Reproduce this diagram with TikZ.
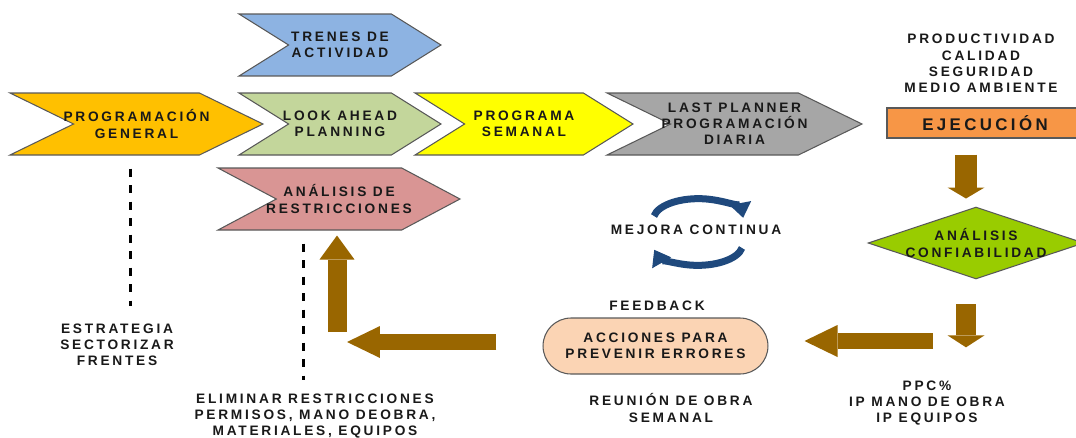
\documentclass[tikz,border=0pt]{standalone}
\usepackage{fontspec}
\setmainfont{Liberation Sans}
\newfontfamily\lblfont[LetterSpace=20]{Liberation Sans}
\usetikzlibrary{shapes.symbols,shapes.geometric,arrows.meta}

\definecolor{genorange}{HTML}{FFC000}
\definecolor{lookgreen}{HTML}{C3D69B}
\definecolor{semyellow}{HTML}{FFFF00}
\definecolor{lastgray}{HTML}{A6A6A6}
\definecolor{trenblue}{HTML}{8DB3E2}
\definecolor{restrpink}{HTML}{D99594}
\definecolor{ejecorange}{HTML}{F79646}
\definecolor{diamgreen}{HTML}{99CC00}
\definecolor{accpeach}{HTML}{FBD4B4}
\definecolor{arrowbrown}{HTML}{996600}
\definecolor{cycblue}{HTML}{1F497D}
\definecolor{chevline}{HTML}{595959}

\tikzset{
  lbl/.style={align=center, inner sep=0pt, text=black!90,
    font=\lblfont\bfseries\fontsize{7.8}{9.2}\selectfont},
  chev/.style={lbl, signal, signal to=east, signal from=west, inner xsep=-2cm,
    draw=chevline, line width=0.6pt, minimum height=1.24cm},
  blockarrow/.style n args={3}{draw=arrowbrown, line width=#1,
    -{Triangle[width=#2, length=#3, line width=0pt]}},
  cycarrow/.style={draw=cycblue, line width=0.14cm,
    -{Triangle[width=0.44cm, length=0.3cm, line width=0pt]}},
  dashline/.style={line width=0.06cm, dash pattern=on 0.16cm off 0.17cm},
}

\begin{document}
\begin{tikzpicture}[x=0.02cm,y=-0.02cm]
    \useasboundingbox (0,0) rectangle (1076,437);

    \node[chev, fill=trenblue, minimum width=4.04cm, signal pointer angle=64] (tren) at (340,45) {TRENES DE\\ACTIVIDAD};
    \node[chev, fill=genorange, minimum width=5.06cm, signal pointer angle=52] (gen) at (136.5,124) {PROGRAMACIÓN\\GENERAL};
    \node[chev, fill=lookgreen, minimum width=4.04cm, signal pointer angle=64] (look) at (340,124) {LOOK AHEAD\\PLANNING};
    \node[chev, fill=semyellow, minimum width=4.36cm, signal pointer angle=64] (sem) at (524,124) {PROGRAMA\\SEMANAL};
    \node[chev, fill=lastgray, minimum width=5.1cm, signal pointer angle=52] (last) at (734.5,124) {LAST PLANNER\\PROGRAMACIÓN\\DIARIA};
    \node[chev, fill=restrpink, minimum width=4.84cm, signal pointer angle=56] (restr) at (339,199) {ANÁLISIS DE\\RESTRICCIONES};

    \node[lbl] (prod) at (981,63.5) {PRODUCTIVIDAD\\CALIDAD\\SEGURIDAD\\MEDIO AMBIENTE};
    \node[lbl, draw=chevline, line width=0.6pt, fill=ejecorange, minimum width=3.92cm, minimum height=0.6cm,
          font=\lblfont\bfseries\fontsize{9.6}{11}\selectfont] (ejec) at (985,123) {EJECUCIÓN};
    \node[lbl, diamond, shape aspect=3, inner xsep=-3pt, draw=chevline, line width=0.6pt, fill=diamgreen] (diam) at (976,243) {ANÁLISIS\\CONFIABILIDAD};
    \node[lbl] (ppc) at (927,403) {PPC\%\\IP MANO DE OBRA\\IP EQUIPOS};

    \node[lbl, draw=chevline, line width=0.6pt, fill=accpeach, rounded corners=0.56cm,
          minimum width=4.5cm, minimum height=1.12cm] (acc) at (655.5,346) {ACCIONES PARA\\PREVENIR ERRORES};
    \node[lbl] (fb) at (657,306) {FEEDBACK};
    \node[lbl] (reu) at (671,408) {REUNIÓN DE OBRA\\SEMANAL};
    \node[lbl] (mej) at (696,230) {MEJORA CONTINUA};

    \node[lbl] (estr) at (117,345) {ESTRATEGIA\\SECTORIZAR\\FRENTES};
    \node[lbl] (elim) at (315,416) {ELIMINAR RESTRICCIONES\\PERMISOS, MANO DEOBRA,\\MATERIALES, EQUIPOS};

    \coordinate (fbk) at (933,341);
    \coordinate (elbow) at (347,342);
    \coordinate (upfoot) at (337,332);

    \draw[blockarrow={0.44cm}{0.74cm}{0.22cm}] ([shift={(-19,16)}]ejec.south) -- ([shift={(-10,-8)}]diam.north);
    \draw[blockarrow={0.40cm}{0.74cm}{0.24cm}] ([shift={(-10,25)}]diam.south) -- ([shift={(39,-33)}]ppc.north);
    \draw[blockarrow={0.32cm}{0.64cm}{0.66cm}] (fbk) -- ([shift={(36,-5)}]acc.east);
    \draw[blockarrow={0.32cm}{0.64cm}{0.66cm}] ([shift={(-46,-4)}]acc.west) -- (elbow);
    \draw[blockarrow={0.38cm}{0.70cm}{0.48cm}, shorten >=0.1cm] (upfoot) -- (upfoot |- restr.south);

    \draw[cycarrow] ([shift={(-42,-14)}]mej.center) arc[start angle=190, end angle=355, x radius=45, y radius=21];
    \draw[cycarrow] ([shift={(46,18)}]mej.center) arc[start angle=10, end angle=165, x radius=45, y radius=21];

    \draw[dashline, shorten >=0.36cm] ([shift={(-6.5,13)}]gen.south) coordinate (d1) -- (d1 |- estr.north);
    \draw[dashline, shorten >=0.26cm] ([shift={(-36,13)}]restr.south) coordinate (d2) -- (d2 |- elim.north);
\end{tikzpicture}
\end{document}
